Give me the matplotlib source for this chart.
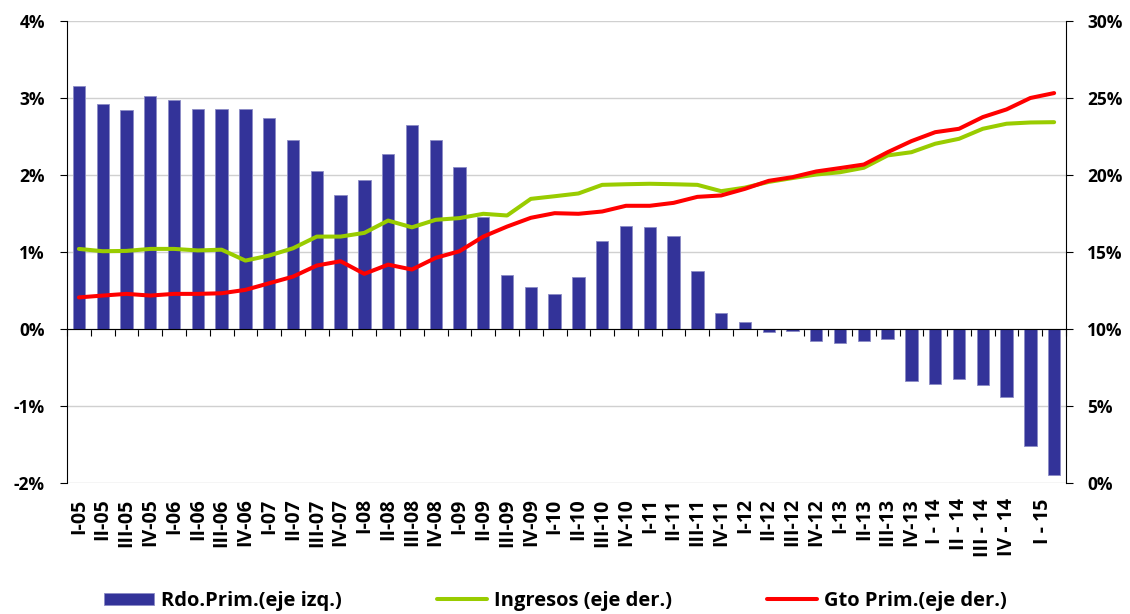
import matplotlib.pyplot as plt
from matplotlib.ticker import FuncFormatter
import numpy as np

# trimestres (la ultima barra lleva la etiqueta "I - 15" corrida)
labels = ['I-05', 'II-05', 'III-05', 'IV-05',
          'I-06', 'II-06', 'III-06', 'IV-06',
          'I-07', 'II-07', 'III-07', 'IV-07',
          'I-08', 'II-08', 'III-08', 'IV-08',
          'I-09', 'II-09', 'III-09', 'IV-09',
          'I-10', 'II-10', 'III-10', 'IV-10',
          'I-11', 'II-11', 'III-11', 'IV-11',
          'I-12', 'II-12', 'III-12', 'IV-12',
          'I-13', 'II-13', 'III-13', 'IV-13',
          'I - 14', 'II - 14', 'III - 14', 'IV - 14',
          '', 'I - 15\n']

# resultado primario, % PBI (eje izq.)
rdo = [3.15, 2.92, 2.85, 3.03, 2.97, 2.86, 2.86, 2.86, 2.74, 2.45,
       2.05, 1.74, 1.94, 2.27, 2.65, 2.45, 2.10, 1.45, 0.70, 0.55,
       0.45, 0.68, 1.14, 1.34, 1.33, 1.21, 0.75, 0.21, 0.09, -0.04,
       -0.02, -0.16, -0.18, -0.15, -0.13, -0.68, -0.72, -0.65, -0.73, -0.88,
       -1.52, -1.90]

# ingresos y gasto primario, % PBI (eje der.)
ingresos = [15.2, 15.05, 15.07, 15.2, 15.2, 15.1, 15.15, 14.44, 14.77, 15.24,
            16.0, 16.0, 16.24, 17.04, 16.6, 17.09, 17.2, 17.48, 17.37, 18.45,
            18.62, 18.8, 19.36, 19.4, 19.43, 19.4, 19.36, 18.95, 19.18, 19.55,
            19.8, 20.03, 20.18, 20.47, 21.27, 21.48, 22.03, 22.35, 23.0, 23.33,
            23.41, 23.43]
gasto = [12.05, 12.17, 12.28, 12.17, 12.28, 12.28, 12.32, 12.54, 12.97, 13.4,
         14.12, 14.4, 13.58, 14.18, 13.86, 14.62, 15.05, 16.0, 16.65, 17.22,
         17.52, 17.48, 17.63, 18.0, 18.0, 18.19, 18.58, 18.67, 19.1, 19.62,
         19.86, 20.23, 20.45, 20.68, 21.48, 22.2, 22.78, 23.0, 23.76, 24.26,
         25.0, 25.32]

names = ['Rdo.Prim.(eje izq.)', 'Ingresos (eje der.)', 'Gto Prim.(eje der.)']

plt.rcParams['font.family'] = ['Open Sans', 'DejaVu Sans']
plt.rcParams['font.weight'] = 'bold'
plt.rcParams['axes.unicode_minus'] = False

pct = FuncFormatter(lambda v, p: f'{v:.0f}%')

fig = plt.figure(figsize=(11.3, 6.14), dpi=100)
ax = fig.add_axes([0.0593, 0.2134, 0.8841, 0.7524])
x = np.arange(len(labels))

bars = ax.bar(x, rdo, width=0.52, color='#333399', edgecolor='#8c8cc6',
              linewidth=0.6, zorder=2)
ax.set_xlim(-0.5, len(labels) - 0.5)
ax.set_ylim(-2, 4)
ax.set_yticks(range(-2, 5))
ax.yaxis.set_major_formatter(pct)
ax.grid(axis='y', color='#d0d0d0', lw=1)
ax.set_axisbelow(True)
ax.spines['bottom'].set_position(('data', 0))
ax.spines['top'].set_visible(False)
ax.spines['right'].set_visible(False)
ax.set_xticks(np.arange(len(labels) + 1) - 0.5)
ax.tick_params(axis='x', direction='out', length=5, labelbottom=False)
ax.tick_params(axis='y', length=5, pad=11, labelsize=12.5)

sec = ax.secondary_xaxis('bottom')
sec.set_xticks(x, labels, rotation=90)
sec.tick_params(length=0, pad=11, labelsize=14)
sec.spines['bottom'].set_visible(False)

ax2 = ax.twinx()
l1, = ax2.plot(x, ingresos, color='#99cc00', lw=2.9, solid_capstyle='round')
l2, = ax2.plot(x, gasto, color='#ff0000', lw=2.9, solid_capstyle='round')
ax2.set_ylim(0, 30)
ax2.set_yticks(range(0, 31, 5))
ax2.yaxis.set_major_formatter(pct)
for s in ['top', 'bottom', 'left']:
    ax2.spines[s].set_visible(False)
ax2.tick_params(axis='y', length=5, pad=10, labelsize=12.5)

fig.legend([bars, l1, l2], names, loc='center left',
           bbox_to_anchor=(0.092, 0.021), ncol=3, frameon=False, fontsize=14.5,
           handlelength=2.5, handleheight=0.6, handletextpad=0.35,
           columnspacing=4.7, borderpad=0, borderaxespad=0)

fig.savefig('out.png', dpi=100)
